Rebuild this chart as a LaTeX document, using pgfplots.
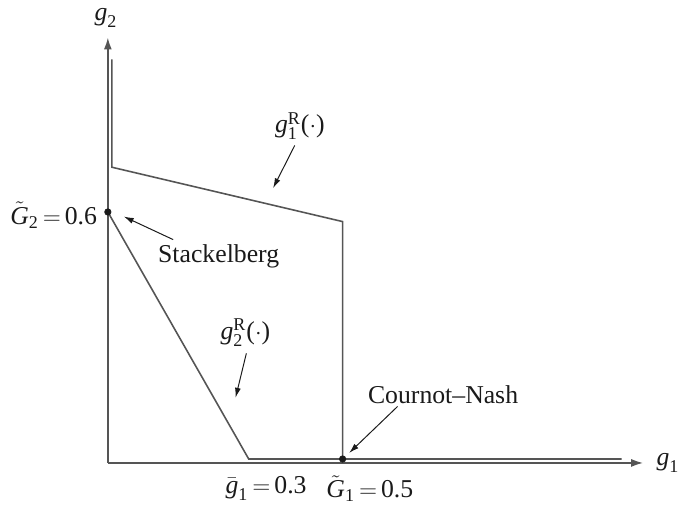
\documentclass[border=0pt]{standalone}
\usepackage{amsmath}
\usepackage{fontspec}
\setmainfont{Liberation Serif}
\usepackage{pgfplots}
\pgfplotsset{compat=1.18}
\usetikzlibrary{arrows.meta}

\definecolor{curve}{HTML}{555555}
\definecolor{ink}{HTML}{1A1A1A}

\newcommand{\gi}{\textit{g}}
\newcommand{\Gi}{\textit{G}}

\begin{document}
\fontsize{13}{15}\selectfont
\begin{tikzpicture}
\begin{axis}[
  scale only axis,
  width=270.5pt, height=215pt,
  xmin=0, xmax=1.14, ymin=0, ymax=1.017,
  axis lines=left,
  axis line style={curve, line width=0.8pt, -{Latex[length=6pt,width=4pt]}},
  xtick=\empty, ytick=\empty,
  clip=false,
]
% reaction curve of player 1
\addplot[curve, line width=0.8pt] coordinates {
  (0.0084,0.965) (0.0084,0.707) (0.5,0.577) (0.5,0.0095)
};
% reaction curve of player 2
\addplot[curve, line width=0.8pt] coordinates {
  (0,0.6) (0.3,0.0095) (1.094,0.0095)
};
% equilibria
\addplot[only marks, mark=*, mark size=1.6pt, ink] coordinates {
  (0,0.6) (0.5,0.0095)
};

% axis names
\node[ink] at (axis cs:1.193,0) {$\gi_{\text{1}}$};
\node[ink] at (axis cs:-0.004,1.064) {$\gi_{\text{2}}$};

% values on the axes
\node[ink, anchor=east] at (axis cs:-0.004,0.593) {$\tilde{\Gi}_{\text{2}}\,{=}\,\text{0.6}$};
\node[ink] at (axis cs:0.337,-0.061) {$\bar{\gi}_{\text{1}}\,{=}\,\text{0.3}$};
\node[ink] at (axis cs:0.558,-0.061) {$\tilde{\Gi}_{\text{1}}\,{=}\,\text{0.5}$};

% curve labels and pointers
\node[ink] at (axis cs:0.409,0.805) {$\gi_{\text{1}}^{\text{R}}\text{(}{\cdot}\text{)}$};
\draw[ink, line width=0.5pt, -{Latex[length=5pt,width=3pt]}] (axis cs:0.398,0.759) -- (axis cs:0.352,0.657);

\node[ink] at (axis cs:0.293,0.311) {$\gi_{\text{2}}^{\text{R}}\text{(}{\cdot}\text{)}$};
\draw[ink, line width=0.5pt, -{Latex[length=5pt,width=3pt]}] (axis cs:0.295,0.262) -- (axis cs:0.272,0.156);

\node[ink] at (axis cs:0.236,0.494) {Stackelberg};
\draw[ink, line width=0.5pt, -{Latex[length=5pt,width=3pt]}] (axis cs:0.139,0.534) -- (axis cs:0.034,0.589);

\node[ink] at (axis cs:0.714,0.163) {Cournot--Nash};
\draw[ink, line width=0.5pt, -{Latex[length=5pt,width=3pt]}] (axis cs:0.617,0.135) -- (axis cs:0.514,0.024);

\coordinate (bl) at (axis cs:-0.2297,-0.1017);
\coordinate (tr) at (axis cs:1.22,1.1017);
\end{axis}
\path[use as bounding box] (bl) rectangle (tr);
\end{tikzpicture}
\end{document}
